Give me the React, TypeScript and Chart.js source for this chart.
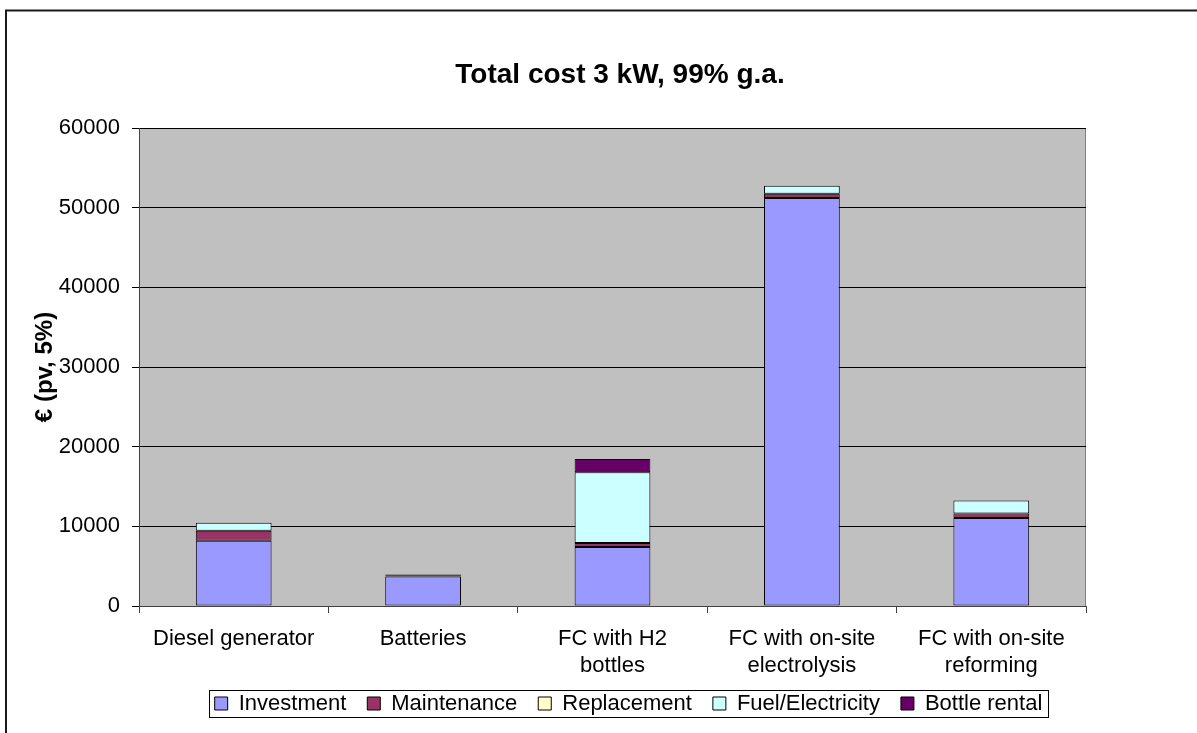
import { useEffect, useRef } from "react";
import { Chart, registerables } from "chart.js";
Chart.register(...registerables);

const categories = [
  ["Diesel generator"],
  ["Batteries"],
  ["FC with H2", "bottles"],
  ["FC with on-site", "electrolysis"],
  ["FC with on-site", "reforming"],
];
const investment = [8200, 3700, 7400, 51200, 11050];
const maintenance = [1250, 150, 500, 550, 550];
const replacement = [0, 100, 0, 0, 0];
const fuelElectricity = [1000, 0, 8900, 1000, 1650];
const bottleRental = [0, 0, 1650, 0, 0];
const yMin = 0;
const yMax = 60000;
const yStep = 10000;

const FONT = "'Liberation Sans', Arial, sans-serif";

export default function App() {
  const ref = useRef<HTMLCanvasElement | null>(null);
  useEffect(() => {
    document.body.style.margin = "0";
    const canvas = ref.current!;
    const framePlugin = {
      id: "frame",
      beforeDraw(chart: any) {
        const { ctx, chartArea: a } = chart;
        ctx.save();
        ctx.fillStyle = "#ffffff";
        ctx.fillRect(0, 0, chart.width, chart.height);
        ctx.strokeStyle = "#1a1a1a";
        ctx.lineWidth = 2;
        ctx.beginPath();
        ctx.moveTo(6, chart.height + 2);
        ctx.lineTo(6, 10.5);
        ctx.lineTo(chart.width + 2, 10.5);
        ctx.stroke();
        ctx.fillStyle = "#c0c0c0";
        ctx.fillRect(a.left, a.top, a.right - a.left, a.bottom - a.top);
        ctx.strokeStyle = "#808080";
        ctx.lineWidth = 1;
        ctx.strokeRect(a.left + 0.5, a.top + 0.5, a.right - a.left - 1, a.bottom - a.top);
        ctx.restore();
      },
      afterLayout(chart: any) {
        const lg = chart.legend;
        if (lg) {
          const shift = 628.5 - (lg.left + lg.right) / 2;
          lg.left += shift;
          lg.right += shift;
          lg.top -= 8.5;
          lg.bottom -= 8.5;
        }
        const tt = chart.titleBlock;
        if (tt) {
          const s = 620 - (tt.left + tt.right) / 2;
          tt.left += s;
          tt.right += s;
        }
      },
      afterDraw(chart: any) {
        const lg = chart.legend;
        if (!lg || !lg.legendHitBoxes || !lg.legendHitBoxes.length) return;
        const hb = lg.legendHitBoxes;
        const l = Math.min(...hb.map((h: any) => h.left));
        const r = Math.max(...hb.map((h: any) => h.left + h.width));
        const t = Math.min(...hb.map((h: any) => h.top));
        const b = Math.max(...hb.map((h: any) => h.top + h.height));
        const { ctx } = chart;
        ctx.save();
        ctx.strokeStyle = "#000000";
        ctx.lineWidth = 1;
        const x0 = Math.round(l - 6);
        const y0 = Math.round(t - 2.5);
        ctx.strokeRect(x0 + 0.5, y0 + 0.5, Math.round(r + 6) - x0, Math.round(b + 2.5) - y0);
        ctx.restore();
      },
    };

    const mk = (label: string, data: number[], color: string) => ({
      label,
      data,
      backgroundColor: color,
      borderColor: "#000000",
      borderWidth: 1,
      borderSkipped: false,
      barPercentage: 0.4,
      categoryPercentage: 1,
    });

    const chart = new Chart(canvas, {
      type: "bar",
      data: {
        labels: categories,
        datasets: [
          mk("Investment", investment, "#9999ff"),
          mk("Maintenance", maintenance, "#993366"),
          mk("Replacement", replacement, "#ffffcc"),
          mk("Fuel/Electricity", fuelElectricity, "#ccffff"),
          mk("Bottle rental", bottleRental, "#660066"),
        ],
      },
      options: {
        responsive: false,
        animation: false,
        devicePixelRatio: 1,
        layout: { padding: { left: 0, right: 111, top: 0, bottom: 0 } },
        plugins: {
          title: {
            display: true,
            text: "Total cost 3 kW, 99% g.a.",
            color: "#000000",
            fullSize: false,
            font: { family: FONT, size: 28, weight: "bold" },
            padding: { top: 58.2, bottom: 36.2 },
          },
          legend: {
            display: true,
            position: "bottom",
            labels: {
              color: "#000000",
              font: { family: FONT, size: 22 },
              boxWidth: 13,
              boxHeight: 13,
              padding: 21,
            },
          },
          tooltip: { enabled: false },
        },
        scales: {
          x: {
            stacked: true,
            afterFit(scale: any) {
              scale.height = 74;
            },
            grid: {
              offset: true,
              drawOnChartArea: false,
              drawTicks: true,
              tickLength: 7,
              color: "#404040",
            },
            border: { display: true, color: "#404040", width: 1 },
            ticks: {
              color: "#000000",
              font: { family: FONT, size: 22 },
              padding: 13,
              maxRotation: 0,
              autoSkip: false,
            },
          },
          y: {
            stacked: true,
            min: yMin,
            max: yMax,
            afterFit(scale: any) {
              scale.width = 139;
            },
            grid: {
              color: "#000000",
              drawTicks: true,
              tickLength: 7,
            },
            border: { display: true, color: "#404040", width: 1 },
            ticks: {
              stepSize: yStep,
              color: "#000000",
              font: { family: FONT, size: 22 },
              padding: 12,
              callback: (v: any) => String(v),
            },
            title: {
              display: true,
              text: "€ (pv, 5%)",
              color: "#000000",
              font: { family: FONT, size: 24, weight: "bold" },
              padding: { top: 31, bottom: 0 },
            },
          },
        },
      },
      plugins: [framePlugin],
    } as any);
    return () => chart.destroy();
  }, []);
  return <canvas ref={ref} width={1197} height={733} style={{ display: "block" }} />;
}
